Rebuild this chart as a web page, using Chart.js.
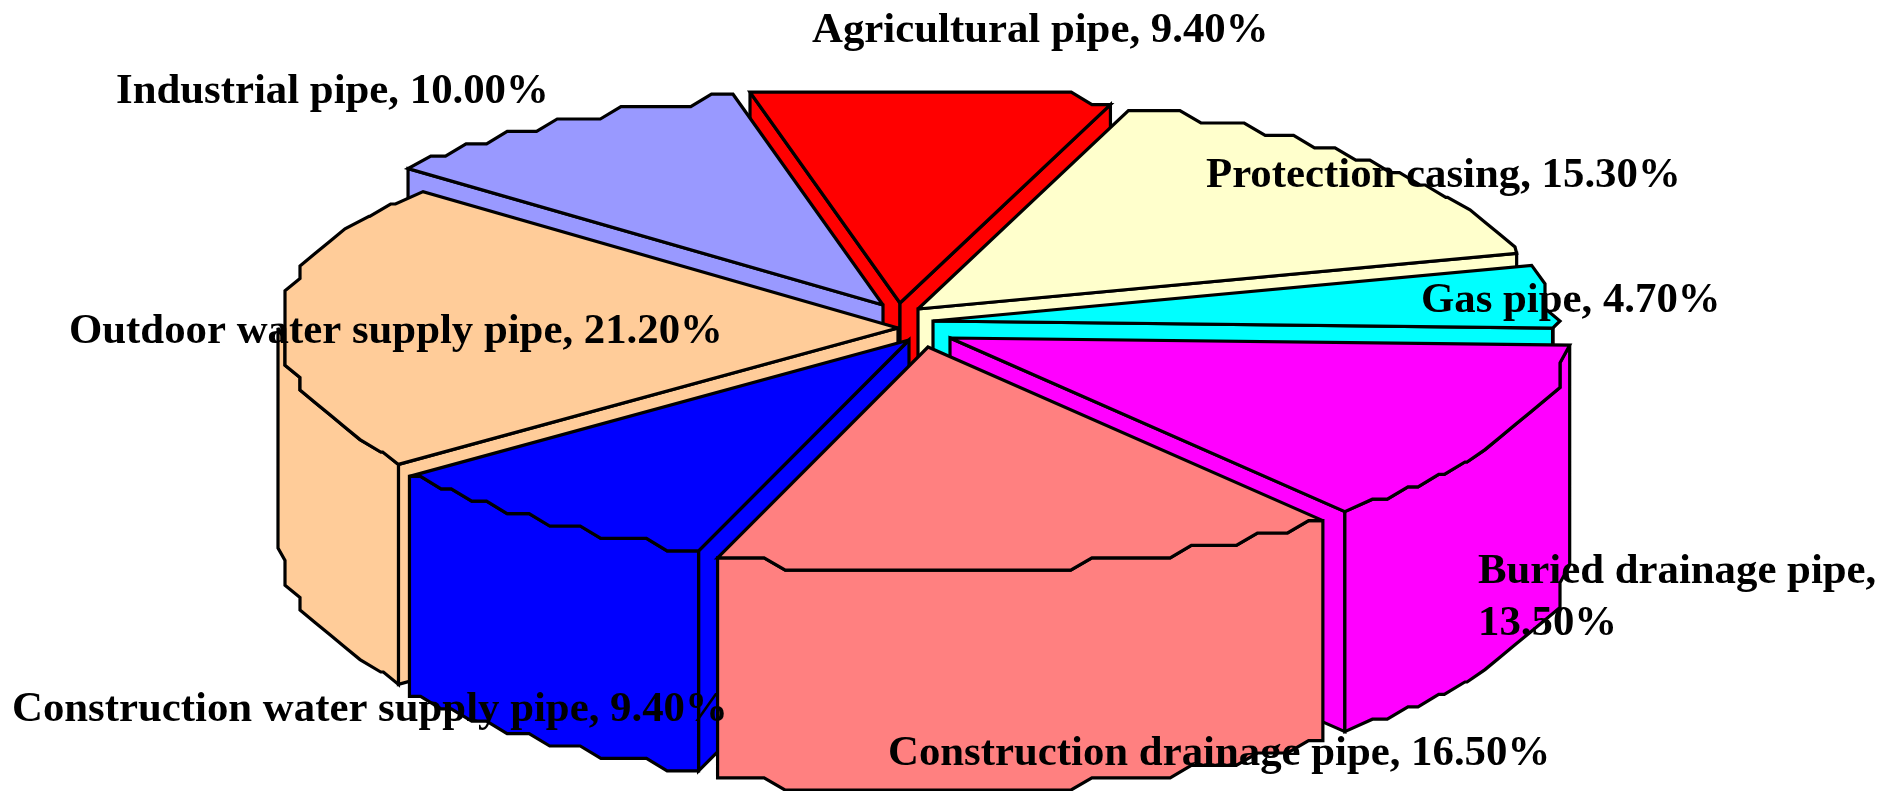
<!DOCTYPE html>
<html><head><meta charset="utf-8">
<style>html,body{margin:0;padding:0;background:#fff}canvas{display:block}</style>
<script src="https://cdn.jsdelivr.net/npm/chart.js@4"></script>
</head><body><canvas id="c" width="1896" height="791"></canvas>
<script>
const categories = ["Agricultural pipe","Protection casing","Gas pipe","Buried drainage pipe","Construction drainage pipe","Construction water supply pipe","Outdoor water supply pipe","Industrial pipe"];
const shares = [9.4,15.3,4.7,13.5,16.5,9.4,21.2,10.0];
const sliceColors = ["#FF0000","#FFFFCC","#00FFFF","#FF00FF","#FF8080","#0000FF","#FFCC99","#9999FF"];
// how far each slice is pulled out of the pie
const explodeX = [-16,2,17,34,12,-7,-18,-33];
const explodeY = [-22,-16,-4,13,22,15,3,-20];
// painter's order: back slices first
const drawOrder = [0,1,7,2,6,3,5,4];
// label anchors (left, baseline of each line)
const labelAnchors = [[812,42],[1206,187],[1421,312],[1478,583],[888,765],[12,721],[69,343],[116,103]];
const labelBreak = {3:["Buried drainage pipe,","13.50%"]};
const lineGap = 52;

const RX_K=620/325, RY_BACK_K=214/325, RY_FRONT_K=224/325, DEPTH_K=220/325;
const GY=12.4, GX=15, INSET=10;

function stair(T,a,b,rx,ryB,ryF){
  const N=500, runs=[];
  const yAt=p=>{const s=Math.sin(p);return (s>0?ryF:ryB)*s;};
  const snap=p=>{const e=yAt(p),q=Math.round(e/GY)*GY;return Math.abs(e-q)<4.5?q:e;};
  for(let i=0;i<=N;i++){
    const p=a+(b-a)*i/N;
    const x=T.x+rx*Math.cos(p), lv=Math.round(yAt(p)/GY);
    const r=runs[runs.length-1];
    if(r&&r.lv===lv) r.x2=x; else runs.push({lv,x1:x,x2:x});
  }
  const pts=[];
  pts.push([T.x+rx*Math.cos(a),T.y+snap(a)]);
  runs.forEach((r,i)=>{
    const y=T.y+r.lv*GY, w=r.x2-r.x1, sg=Math.sign(w)||1;
    if(i===0||i===runs.length-1){
      if(Math.abs(w)>2*INSET) pts.push(i===0?[r.x2-INSET*sg,y]:[r.x1+INSET*sg,y]);
    } else if(Math.abs(w)>2*INSET){
      pts.push([r.x1+INSET*sg,y]);
      pts.push([r.x2-INSET*sg,y]);
    } else pts.push([Math.round((r.x1+r.x2)/2/GX)*GX,y]);
  });
  pts.push([T.x+rx*Math.cos(b),T.y+snap(b)]);
  return pts;
}
function poly(ctx,pts,fill){
  ctx.beginPath();
  pts.forEach((p,i)=>i?ctx.lineTo(p[0],p[1]):ctx.moveTo(p[0],p[1]));
  ctx.closePath();
  ctx.fillStyle=fill; ctx.fill(); ctx.stroke();
}
const pie3d={
  id:'pie3d',
  beforeDatasetDraw(chart){
    const ctx=chart.ctx, meta=chart.getDatasetMeta(0);
    ctx.save();
    ctx.strokeStyle='#000'; ctx.lineWidth=3.2; ctx.lineJoin='miter'; ctx.miterLimit=3;
    drawOrder.forEach(i=>{
      const el=meta.data[i], R=el.outerRadius;
      const a=el.startAngle,b=el.endAngle;
      const T={x:el.x+explodeX[i], y:el.y+explodeY[i]};
      const rx=R*RX_K, ryB=R*RY_BACK_K, ryF=R*RY_FRONT_K, D=R*DEPTH_K;
      const arc=stair(T,a,b,rx,ryB,ryF);
      const col=sliceColors[i];
      const down=p=>[p[0],p[1]+D];
      const t=[T.x,T.y], c0=arc[0], c1=arc[arc.length-1];
      if(Math.cos(a)<0) poly(ctx,[t,c0,down(c0),down(t)],col);
      if(Math.cos(b)>0) poly(ctx,[t,c1,down(c1),down(t)],col);
      const fa=Math.max(a,0), fb=Math.min(b,Math.PI);
      if(fb>fa){
        const front=stair(T,fa,fb,rx,ryB,ryF);
        poly(ctx,[...front,...front.slice().reverse().map(down)],col);
      }
      poly(ctx,[t,...arc],col);
    });
    ctx.restore();
    return false;
  },
  afterDatasetsDraw(chart){
    const ctx=chart.ctx;
    ctx.save();
    ctx.fillStyle='#000';
    ctx.font='bold 42.8px "Liberation Serif"';
    ctx.textBaseline='alphabetic'; ctx.textAlign='left';
    categories.forEach((c,i)=>{
      const lines=labelBreak[i]||[c+", "+shares[i].toFixed(2)+"%"];
      lines.forEach((l,k)=>ctx.fillText(l,labelAnchors[i][0],labelAnchors[i][1]+k*lineGap));
    });
    ctx.restore();
  }
};
new Chart(document.getElementById('c'),{
  type:'pie',
  data:{labels:categories,datasets:[{data:shares,backgroundColor:sliceColors,borderWidth:0}]},
  options:{responsive:false,animation:false,rotation:-14,
    layout:{padding:{left:0,top:0,right:64,bottom:141}},
    plugins:{legend:{display:false},tooltip:{enabled:false}}},
  plugins:[pie3d]
});
</script></body></html>
